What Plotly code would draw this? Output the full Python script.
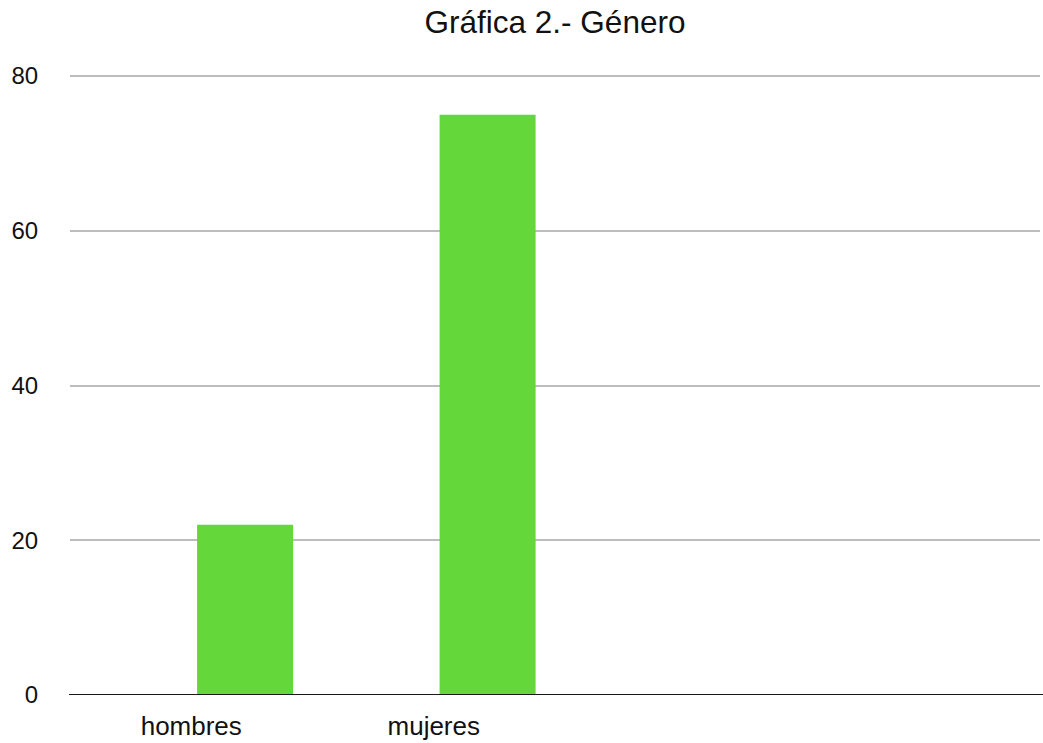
import plotly.graph_objects as go

# Datos de la gráfica
categorias = ["hombres", "mujeres"]
valores = [22, 75]
posiciones = [0, 1]          # índice de cada categoría en el eje
y_ticks = [0, 20, 40, 60, 80]
y_max = 80.26                # un poco por encima de 80 para que se vea su línea de rejilla

fig = go.Figure()

fig.add_trace(go.Bar(
    x=posiciones,
    y=valores,
    width=0.396,
    offset=0.024,
    marker=dict(color="#64D83A", line=dict(width=0)),
    hoverinfo="x+y",
))

fig.update_layout(
    width=1043,
    height=743,
    margin=dict(l=70, r=3, t=74, b=48, autoexpand=False),
    paper_bgcolor="white",
    plot_bgcolor="white",
    showlegend=False,
    font=dict(family="Liberation Sans, Arial, sans-serif", color="#111111"),
    title=dict(
        text="Gráfica 2.- Género",
        x=0.5,
        xref="paper",
        xanchor="center",
        y=0.985,
        yanchor="top",
        font=dict(size=31.5, color="#111111"),
    ),
    xaxis=dict(
        range=[-0.5, 3.5],
        tickmode="array",
        tickvals=posiciones,
        ticktext=categorias,
        tickfont=dict(size=26),
        showgrid=False,
        zeroline=False,
        showline=False,
        ticks="outside",
        ticklen=8,
        tickcolor="rgba(0,0,0,0)",
        automargin=False,
        fixedrange=True,
    ),
    yaxis=dict(
        range=[0, y_max],
        tickmode="array",
        tickvals=y_ticks,
        tickfont=dict(size=24),
        showgrid=True,
        gridcolor="#bdbdbd",
        gridwidth=2,
        zeroline=False,
        showline=False,
        ticks="outside",
        ticklen=26,
        tickcolor="rgba(0,0,0,0)",
        automargin=False,
        fixedrange=True,
    ),
    shapes=[
        dict(
            type="line",
            xref="paper",
            yref="y",
            x0=-0.001,
            x1=1.004,
            y0=0,
            y1=0,
            line=dict(color="#1a1a1a", width=2),
        )
    ],
)

fig.write_html("out.html")
